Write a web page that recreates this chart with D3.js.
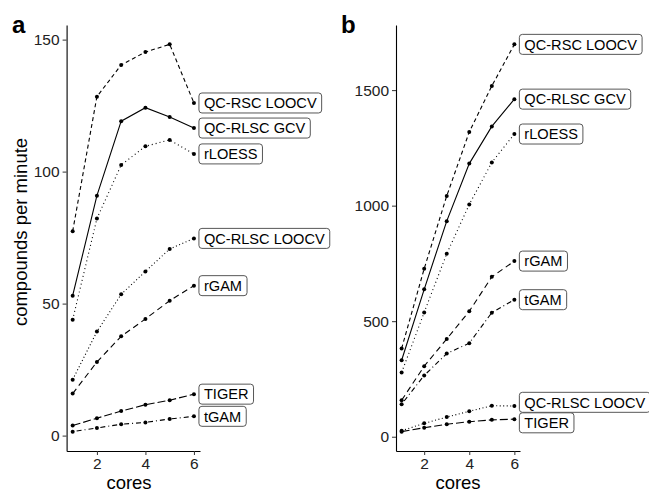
<!DOCTYPE html>
<html>
<head>
<meta charset="utf-8">
<script src="https://cdn.jsdelivr.net/npm/d3@7"></script>
<style>
  body { margin: 0; background: #fff; }
  svg { font-family: "Liberation Sans", Arial, Helvetica, sans-serif; }
</style>
</head>
<body>
<svg id="chart" width="649" height="492"></svg>
<script>
// x values
const cores = [1, 2, 3, 4, 5, 6];
const methods = ["QC-RSC LOOCV", "QC-RLSC GCV", "rLOESS", "QC-RLSC LOOCV", "rGAM", "TIGER", "tGAM"];

// panel a : compounds per minute
const qcRscLoocvA  = [77.4, 128.4, 140.4, 145.3, 148.2, 126.0];
const qcRlscGcvA   = [53.0, 90.9, 119.1, 124.2, 120.7, 116.5];
const rLoessA      = [43.9, 82.2, 102.5, 109.6, 112.0, 106.7];
const qcRlscLoocvA = [21.2, 39.4, 53.5, 62.2, 70.7, 74.7];
const rGamA        = [15.9, 27.9, 37.6, 44.2, 51.1, 56.8];
const tigerA       = [3.8, 6.6, 9.3, 11.7, 13.4, 15.7];
const tGamA        = [1.5, 2.9, 4.3, 5.0, 6.3, 7.3];

// panel b
const qcRscLoocvB  = [382, 727, 1042, 1319, 1518, 1698];
const qcRlscGcvB   = [331, 638, 933, 1182, 1343, 1461];
const rLoessB      = [278, 538, 792, 1005, 1187, 1310];
const qcRlscLoocvB = [26, 58, 85, 110, 134, 133];
const rGamB        = [158, 305, 423, 543, 692, 760];
const tigerB       = [22, 39, 54, 65, 73, 76];
const tGamB        = [141, 265, 360, 405, 537, 593];

const xTicks = [2, 4, 6];
const yTicksA = [0, 50, 100, 150];
const yTicksB = [0, 500, 1000, 1500];

const dashes = {
  "QC-RSC LOOCV": "4,3",
  "QC-RLSC GCV": null,
  "rLOESS": "1,3",
  "QC-RLSC LOOCV": "1,2.5",
  "rGAM": "6,4",
  "TIGER": "8,3",
  "tGAM": "1,3,5,3"
};

const svg = d3.select("#chart");

function drawPanel(opts) {
  const { letter, seriesVals, yTicks, left, right, letterX, yTitle, xTitleX } = opts;
  const top = 25, bottom = 451;
  const series = methods.map((m, i) => ({ name: m, values: cores.map((c, j) => ({ x: c, y: seriesVals[i][j] })) }));

  const all = seriesVals.flat();
  const lo = d3.min(all), hi = d3.max(all), pad = (hi - lo) * 0.05;
  const x = d3.scaleLinear().domain([0.75, 6.25]).range([left, right]);
  const y = d3.scaleLinear().domain([lo - pad, hi + pad]).range([bottom, top]);

  const g = svg.append("g");

  // axes
  const yAxis = g.append("g")
    .attr("transform", `translate(${left},0)`)
    .call(d3.axisLeft(y).tickValues(yTicks).tickFormat(d3.format("d"))
      .tickSize(4).tickSizeOuter(0).tickPadding(3));
  const xAxis = g.append("g")
    .attr("transform", `translate(0,${bottom})`)
    .call(d3.axisBottom(x).tickValues(xTicks).tickFormat(d3.format("d"))
      .tickSize(4).tickSizeOuter(0).tickPadding(3));
  [yAxis, xAxis].forEach(a => {
    a.select(".domain").attr("stroke", "#000").attr("stroke-width", 1.1);
    a.selectAll(".tick line").attr("stroke", "#333");
    a.selectAll(".tick text").attr("fill", "#222").style("font-size", "15.5px")
      .style("font-family", "'Liberation Sans', Arial, sans-serif");
  });

  // lines
  const line = d3.line().x(d => x(d.x)).y(d => y(d.y));
  g.selectAll(".series")
    .data(series)
    .join("path")
    .attr("fill", "none")
    .attr("stroke", "#000")
    .attr("stroke-width", 1.1)
    .attr("stroke-dasharray", d => dashes[d.name])
    .attr("d", d => line(d.values));

  g.selectAll(".pts")
    .data(series)
    .join("g")
    .selectAll("circle")
    .data(d => d.values)
    .join("circle")
    .attr("cx", d => x(d.x))
    .attr("cy", d => y(d.y))
    .attr("r", 2)
    .attr("fill", "#000");

  // labels, nudged apart if they overlap
  const labels = series.map(s => ({ name: s.name, y0: y(s.values[5].y), y: y(s.values[5].y) }));
  labels.sort((a, b) => a.y0 - b.y0);
  const minGap = 20.5;
  for (let iter = 0; iter < 20; iter++) {
    for (let i = 1; i < labels.length; i++) {
      const d = labels[i].y - labels[i - 1].y;
      if (d < minGap) {
        const push = (minGap - d) / 2;
        labels[i].y += push;
        labels[i - 1].y -= push;
      }
    }
  }
  const lx = x(6) + 5;
  labels.forEach(l => {
    const lg = g.append("g");
    const rect = lg.append("rect");
    const t = lg.append("text")
      .attr("x", lx + 5)
      .attr("y", l.y + 5.3)
      .style("font-size", "14.6px")
      .attr("fill", "#000")
      .text(l.name);
    const w = t.node().getComputedTextLength();
    rect.attr("x", lx).attr("y", l.y - 10).attr("width", w + 10).attr("height", 20)
      .attr("rx", 3).attr("fill", "#fff").attr("stroke", "#444").attr("stroke-width", 0.9);
  });

  // panel letter
  svg.append("text").attr("x", letterX).attr("y", 33)
    .style("font-size", "24px").style("font-weight", "bold").text(letter);

  // axis titles
  svg.append("text").attr("x", xTitleX).attr("y", 489)
    .attr("text-anchor", "middle").style("font-size", "18.5px").text("cores");
  if (yTitle) {
    svg.append("text")
      .attr("transform", `translate(27,232) rotate(-90)`)
      .attr("text-anchor", "middle").style("font-size", "18.5px").text(yTitle);
  }
}

drawPanel({
  letter: "a",
  seriesVals: [qcRscLoocvA, qcRlscGcvA, rLoessA, qcRlscLoocvA, rGamA, tigerA, tGamA],
  yTicks: yTicksA, left: 66.6, right: 200, letterX: 12, yTitle: "compounds per minute", xTitleX: 129
});
drawPanel({
  letter: "b",
  seriesVals: [qcRscLoocvB, qcRlscGcvB, rLoessB, qcRlscLoocvB, rGamB, tigerB, tGamB],
  yTicks: yTicksB, left: 396, right: 520, letterX: 341, yTitle: null, xTitleX: 458
});
</script>
</body>
</html>
